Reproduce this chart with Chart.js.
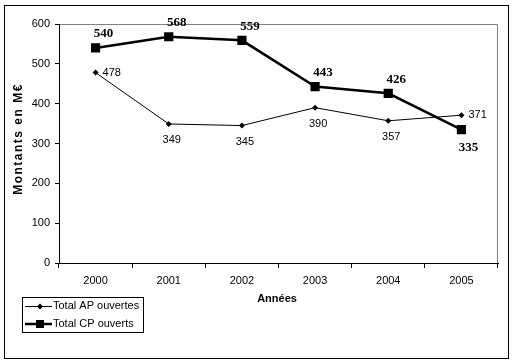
<!DOCTYPE html>
<html>
<head>
<meta charset="utf-8">
<script src="https://cdn.jsdelivr.net/npm/chart.js@4"></script>
<style>
  html, body { margin: 0; padding: 0; background: #fff; }
  #wrap { width: 516px; height: 362px; position: relative; }
</style>
</head>
<body>
<div id="wrap"><canvas id="chart" width="516" height="362"></canvas></div>
<script>
const annees = ["2000", "2001", "2002", "2003", "2004", "2005"];
const totalAP = [478, 349, 345, 390, 357, 371];
const totalCP = [540, 568, 559, 443, 426, 335];
const labelsAP = ["right", "below", "below", "below", "below", "right"];
const labelsCP = ["above", "above", "above", "above", "above", "below"];

const ctx = document.getElementById("chart");

// frame, axis titles, value labels and the boxed legend
const decor = {
  id: "decor",
  beforeDraw(chart) {
    const c = chart.ctx;
    const a = chart.chartArea;
    c.save();
    c.fillStyle = "#fff";
    c.fillRect(0, 0, chart.width, chart.height);
    c.strokeStyle = "#000";
    c.lineWidth = 1;
    c.strokeRect(4.5, 5.5, 504, 353);
    c.strokeStyle = "#808080";
    c.beginPath();
    c.moveTo(a.left, a.top + 0.5);
    c.lineTo(a.right - 0.5, a.top + 0.5);
    c.lineTo(a.right - 0.5, a.bottom);
    c.stroke();
    c.restore();
  },
  afterDraw(chart) {
    const c = chart.ctx;
    c.save();
    c.fillStyle = "#000";
    c.font = "bold 11px 'Liberation Sans', Arial, sans-serif";
    c.textAlign = "center";
    c.textBaseline = "middle";
    c.fillText("Années", 277, 299);
    c.translate(19, 139);
    c.rotate(-Math.PI / 2);
    c.font = "bold 12px 'Liberation Sans', Arial, sans-serif";
    c.letterSpacing = "1.5px";
    c.fillText("Montants en M€", 0, 0);
    c.restore();

    // value labels
    const metaAP = chart.getDatasetMeta(0);
    const metaCP = chart.getDatasetMeta(1);
    c.save();
    c.fillStyle = "#000";
    c.textBaseline = "middle";
    c.font = "11px 'Liberation Sans', Arial, sans-serif";
    metaAP.data.forEach((p, i) => {
      if (labelsAP[i] === "right") {
        c.textAlign = "left";
        c.fillText(String(totalAP[i]), p.x + 7, p.y);
      } else {
        c.textAlign = "center";
        c.fillText(String(totalAP[i]), p.x + 3, p.y + 16);
      }
    });
    c.font = "bold 13px 'Liberation Serif', 'Times New Roman', serif";
    c.textAlign = "center";
    metaCP.data.forEach((p, i) => {
      if (labelsCP[i] === "above") {
        c.fillText(String(totalCP[i]), p.x + 8, p.y - 14);
      } else {
        c.fillText(String(totalCP[i]), p.x + 7, p.y + 18);
      }
    });
    c.restore();

    // legend
    c.save();
    c.strokeStyle = "#000";
    c.fillStyle = "#000";
    c.lineWidth = 1;
    c.strokeRect(22.5, 297.5, 121, 35);
    c.beginPath();
    c.moveTo(25, 306.5);
    c.lineTo(52, 306.5);
    c.stroke();
    c.beginPath();
    c.moveTo(40, 303.5); c.lineTo(43, 306.5); c.lineTo(40, 309.5); c.lineTo(37, 306.5);
    c.closePath();
    c.fill();
    c.lineWidth = 2.5;
    c.beginPath();
    c.moveTo(25, 324);
    c.lineTo(52, 324);
    c.stroke();
    c.fillRect(36, 320, 8, 8);
    c.font = "11px 'Liberation Sans', Arial, sans-serif";
    c.textAlign = "left";
    c.textBaseline = "middle";
    c.fillText(datasetLabel(0), 53, 306);
    c.fillText(datasetLabel(1), 53, 324);
    c.restore();

    function datasetLabel(i) { return chart.data.datasets[i].label; }
  }
};

new Chart(ctx, {
  type: "line",
  data: {
    labels: annees,
    datasets: [
      {
        label: "Total AP ouvertes",
        data: totalAP,
        borderColor: "#000",
        backgroundColor: "#000",
        borderWidth: 1,
        pointStyle: "rectRot",
        pointRadius: 3,
        pointBorderWidth: 0,
        tension: 0,
      },
      {
        label: "Total CP ouverts",
        data: totalCP,
        borderColor: "#000",
        backgroundColor: "#000",
        borderWidth: 2.5,
        pointStyle: "rect",
        pointRadius: 6.5,
        pointBorderWidth: 0,
        tension: 0,
      },
    ],
  },
  options: {
    responsive: false,
    animation: false,
    devicePixelRatio: 1,
    layout: { padding: { top: 24, right: 18, left: 0, bottom: 0 } },
    plugins: { legend: { display: false }, tooltip: { enabled: false } },
    scales: {
      x: {
        offset: true,
        afterFit(s) { s.height = 99; },
        grid: { drawOnChartArea: false, tickLength: 5, color: "#000", offset: true },
        border: { color: "#000", width: 1 },
        ticks: { color: "#000", padding: 6, font: { family: "'Liberation Sans', Arial, sans-serif", size: 11 } },
      },
      y: {
        min: 0,
        max: 600,
        afterFit(s) { s.width = 59; },
        grid: { drawOnChartArea: false, tickLength: 4, color: "#000" },
        border: { color: "#000", width: 1 },
        ticks: { stepSize: 100, color: "#000", padding: 5, font: { family: "'Liberation Sans', Arial, sans-serif", size: 11 } },
      },
    },
  },
  plugins: [decor],
});
</script>
</body>
</html>
